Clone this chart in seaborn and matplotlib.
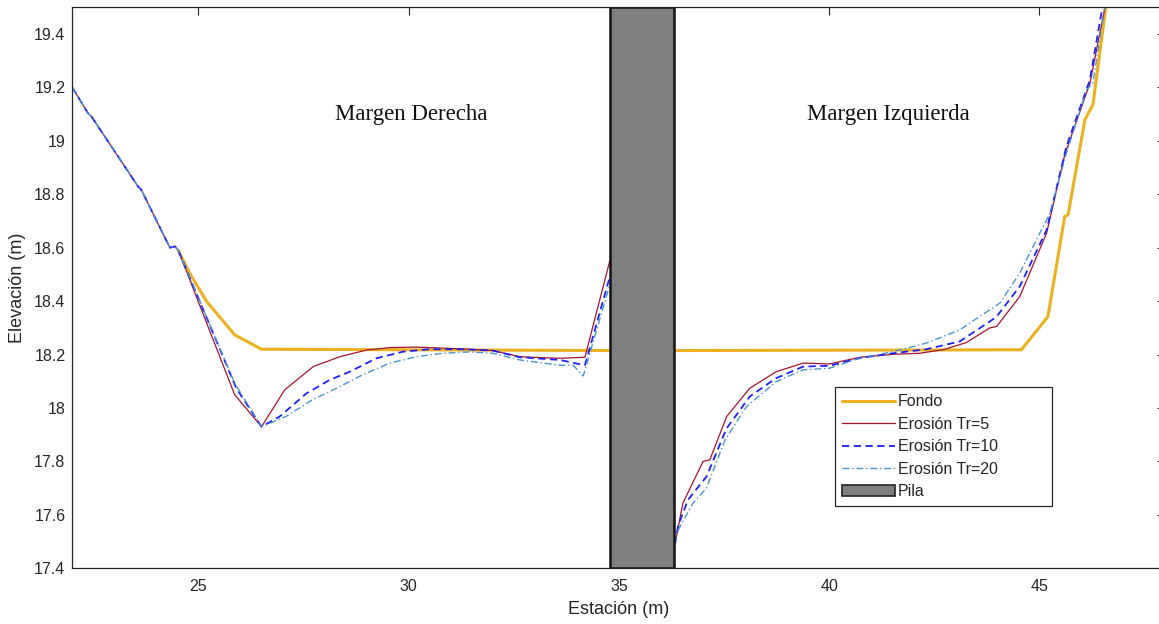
import numpy as np
import pandas as pd
import seaborn as sns
import matplotlib.pyplot as plt
from matplotlib.lines import Line2D
from matplotlib.patches import Patch
from matplotlib.ticker import FuncFormatter

sns.set_theme(style="white")
plt.rcParams["font.family"] = ["Liberation Sans", "DejaVu Sans"]

# Tramo común (margen derecha, antes de separarse las curvas)
x_comun = [22.0, 22.37, 22.46, 23.56, 23.64, 24.32, 24.44, 24.52]
y_comun = [19.2, 19.104, 19.09, 18.83, 18.817, 18.60, 18.605, 18.59]

# Fondo
x_fondo_izq = [24.52, 24.79, 25.19, 25.86, 26.50, 34.78]
y_fondo_izq = [18.59, 18.505, 18.40, 18.274, 18.22, 18.215]
x_fondo_der = [36.30, 44.57, 45.20, 45.60, 45.68, 46.08, 46.27, 46.62]
y_fondo_der = [18.215, 18.218, 18.342, 18.717, 18.723, 19.079, 19.135, 19.55]

# Erosión Tr=5
x_tr5_izq = [25.86, 26.50, 27.05, 27.73, 28.36, 29.0, 29.55, 30.18, 30.82,
             31.45, 32.0, 32.64, 33.59, 34.19, 34.78]
y_tr5_izq = [18.05, 17.93, 18.068, 18.155, 18.192, 18.217, 18.226, 18.228,
             18.224, 18.22, 18.215, 18.192, 18.186, 18.19, 18.55]
x_tr5_der = [36.33, 36.52, 37.0, 37.16, 37.56, 38.11, 38.74, 39.38, 40.01,
             40.73, 41.52, 42.15, 42.71, 43.26, 43.82, 43.98, 44.53, 45.17,
             45.60, 46.20, 46.62]
y_tr5_der = [17.49, 17.644, 17.80, 17.806, 17.968, 18.074, 18.136, 18.168,
             18.165, 18.19, 18.201, 18.205, 18.218, 18.245, 18.30, 18.305,
             18.417, 18.655, 18.948, 19.216, 19.55]

# Erosión Tr=10
x_tr10_izq = [25.9, 26.5, 26.93, 27.57, 28.12, 28.6, 29.23, 29.87, 30.5,
              31.29, 32.0, 32.64, 33.59, 34.19, 34.78]
y_tr10_izq = [18.074, 17.93, 17.968, 18.055, 18.105, 18.136, 18.186, 18.211,
              18.22, 18.22, 18.215, 18.19, 18.18, 18.16, 18.49]
x_tr10_der = [36.33, 36.41, 36.64, 37.08, 37.56, 38.11, 38.74, 39.38, 40.01,
              40.73, 41.52, 42.31, 43.10, 43.82, 43.98, 44.53, 45.17, 45.64,
              46.20, 46.55]
y_tr10_der = [17.49, 17.56, 17.656, 17.743, 17.924, 18.043, 18.112, 18.155,
              18.158, 18.187, 18.205, 18.220, 18.249, 18.324, 18.342, 18.455,
              18.667, 18.979, 19.229, 19.55]

# Erosión Tr=20
x_tr20_izq = [25.86, 26.5, 27.1, 27.7, 28.3, 28.9, 29.55, 30.18, 30.82,
              31.45, 32.0, 32.64, 33.59, 33.91, 34.15, 34.78]
y_tr20_izq = [18.093, 17.93, 17.97, 18.03, 18.075, 18.124, 18.168, 18.192,
              18.205, 18.21, 18.205, 18.18, 18.16, 18.16, 18.12, 18.46]
x_tr20_der = [36.33, 36.41, 36.76, 37.08, 37.52, 38.03, 38.74, 39.38, 40.01,
              40.73, 41.52, 42.31, 43.10, 43.82, 44.06, 44.53, 45.25, 45.64,
              46.12, 46.27, 46.6]
y_tr20_der = [17.49, 17.544, 17.644, 17.70, 17.88, 18.005, 18.099, 18.143,
              18.149, 18.187, 18.211, 18.243, 18.292, 18.368, 18.393, 18.505,
              18.73, 18.954, 19.191, 19.216, 19.55]

pila = (34.78, 36.30)

series = ["Fondo", "Erosión Tr=5", "Erosión Tr=10", "Erosión Tr=20"]
colores = {"Fondo": "#EDB120", "Erosión Tr=5": "#A2142F",
           "Erosión Tr=10": "#1F1FFF", "Erosión Tr=20": "#4A96CC"}
grosores = {"Fondo": 2.2, "Erosión Tr=5": 0.9,
            "Erosión Tr=10": 1.3, "Erosión Tr=20": 1.0}
trazos = {"Fondo": "", "Erosión Tr=5": "",
          "Erosión Tr=10": (4, 2.5), "Erosión Tr=20": (5, 2, 1, 2)}

filas = []
def agregar(nombre, tramo, xs, ys):
    for a, b in zip(xs, ys):
        filas.append({"Estacion": a, "Elevacion": b, "Serie": nombre, "Tramo": tramo})

agregar("Fondo", "izq", x_fondo_izq, y_fondo_izq)
agregar("Fondo", "der", x_fondo_der, y_fondo_der)
agregar("Erosión Tr=5", "izq", x_comun + x_tr5_izq, y_comun + y_tr5_izq)
agregar("Erosión Tr=5", "der", x_tr5_der, y_tr5_der)
agregar("Erosión Tr=10", "izq", x_comun + x_tr10_izq, y_comun + y_tr10_izq)
agregar("Erosión Tr=10", "der", x_tr10_der, y_tr10_der)
agregar("Erosión Tr=20", "izq", x_comun + x_tr20_izq, y_comun + y_tr20_izq)
agregar("Erosión Tr=20", "der", x_tr20_der, y_tr20_der)
df = pd.DataFrame(filas)

fig = plt.figure(figsize=(11.59, 6.24), dpi=100)
ax = fig.add_axes([0.0624, 0.0893, 0.9426, 0.899])

sns.lineplot(data=df, x="Estacion", y="Elevacion", hue="Serie", style="Serie",
             size="Serie", units="Tramo", estimator=None, sort=False,
             hue_order=series, palette=colores, dashes=trazos, sizes=grosores,
             legend=False, ax=ax)

ax.axvspan(pila[0], pila[1], facecolor="#7F7F7F", edgecolor="#111111",
           linewidth=1.8, zorder=2.2)

ax.set_xlim(22, 47.98)
ax.set_ylim(17.4, 19.5)
ax.set_xticks([25, 30, 35, 40, 45])
ax.set_yticks(np.round(np.arange(17.4, 19.41, 0.2), 1))
ax.yaxis.set_major_formatter(FuncFormatter(lambda v, p: f"{v:g}"))
ax.tick_params(axis="both", direction="in", length=6, width=0.8,
               top=True, right=True, colors="#262626", labelsize=11.5)
ax.tick_params(axis="x", pad=8)
ax.tick_params(axis="y", pad=5)
for s in ax.spines.values():
    s.set_color("#262626")
    s.set_linewidth(0.9)

ax.set_xlabel("Estación (m)", fontsize=13, color="#262626", labelpad=5)
ax.set_ylabel("Elevación (m)", fontsize=13, color="#262626", labelpad=6)

ax.text(30.06, 19.098, "Margen Derecha", family="Liberation Serif",
        fontsize=16.5, ha="center", va="center", color="#111111")
ax.text(41.40, 19.098, "Margen Izquierda", family="Liberation Serif",
        fontsize=16.5, ha="center", va="center", color="#111111")

manejadores = [Line2D([], [], color=colores[s], lw=grosores[s],
                      dashes=trazos[s] if trazos[s] else (None, None))
               for s in series]
manejadores.append(Patch(facecolor="#7F7F7F", edgecolor="#222222", lw=1.2))
etiquetas = series + ["Pila"]
leg = ax.legend(manejadores, etiquetas, loc="upper left",
                bbox_to_anchor=(0.698, 0.111, 0.199, 0.212), mode="expand",
                fontsize=11.5, frameon=True, fancybox=False, framealpha=1,
                edgecolor="#262626", handlelength=3.3, handletextpad=0.2,
                labelspacing=0.47, borderpad=0.45, borderaxespad=0)
leg.get_frame().set_linewidth(0.9)

fig.savefig("out.png", dpi=100)
